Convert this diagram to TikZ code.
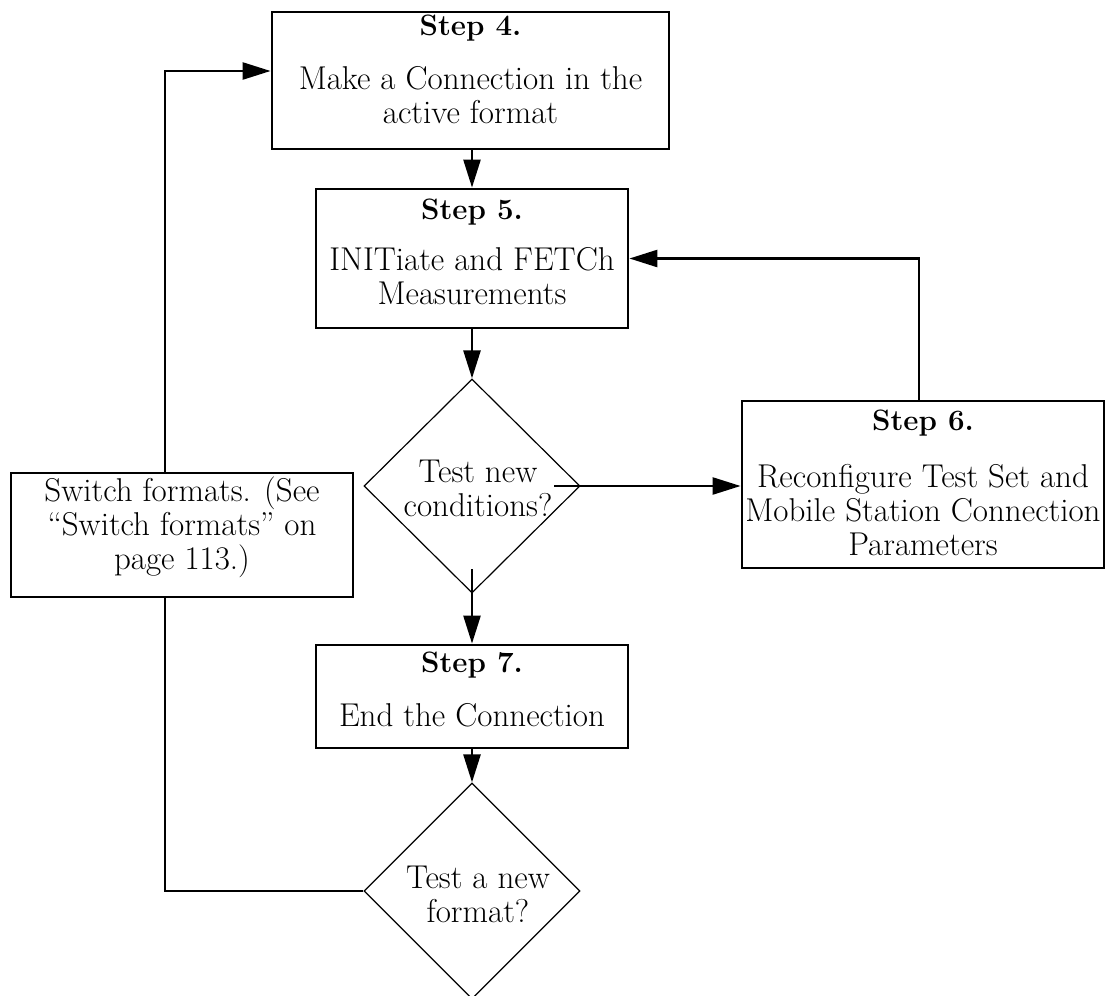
\documentclass[tikz,border=0pt]{standalone}
\usepackage{fontspec}
\usetikzlibrary{shapes.geometric,arrows.meta}
\tikzset{
  stepbox/.style={draw, line width=2.8pt, rectangle, inner sep=0pt},
  dia/.style={draw, line width=1.2pt, diamond, inner sep=0pt, minimum width=216pt, minimum height=214pt},
  ttl/.style={font=\fontsize{29.5}{34}\selectfont\bfseries, inner sep=0pt},
  txt/.style={font=\fontsize{33}{34}\selectfont, align=center, inner sep=0pt},
  conn/.style={line width=2.5pt},
  arr/.style={conn, -{Triangle[length=28pt,width=17pt]}},
}
\begin{document}
\begin{tikzpicture}[x=1pt,y=-1pt]
\path[use as bounding box] (0,0) rectangle (1109,996);
% Step 4
\node[stepbox, minimum width=397pt, minimum height=137pt] (s4) at (470.5,80.5) {};
\node[ttl] (s4t) at (470.5,28) {Step 4.};
\node[txt] (s4b) at (470.5,95) {Make a Connection in the\\active format};
% Step 5
\node[stepbox, minimum width=312pt, minimum height=139pt] (s5) at (472,258.5) {};
\node[ttl] (s5t) at (472,212) {Step 5.};
\node[txt] (s5b) at (472,276.5) {INITiate and FETCh\\Measurements};
% Decision 1
\node[dia] (d1) at (472,486) {};
\node[txt] (d1t) at (478,488) {Test new\\conditions?};
% Step 6
\node[stepbox, minimum width=362pt, minimum height=167pt] (s6) at (923,484.5) {};
\node[ttl] (s6t) at (923,423) {Step 6.};
\node[txt] (s6b) at (923,510) {Reconfigure Test Set and\\Mobile Station Connection\\Parameters};
% Switch formats
\node[stepbox, minimum width=342pt, minimum height=124pt] (sw) at (182,535) {};
\node[txt] (swt) at (182,527) {Switch formats. (See\\“Switch formats” on\\page 113.)};
% Step 7
\node[stepbox, minimum width=312pt, minimum height=103pt] (s7) at (472,696.5) {};
\node[ttl] (s7t) at (472,665) {Step 7.};
\node[txt] (s7b) at (472,715) {End the Connection};
% Decision 2
\node[dia, minimum height=216pt] (d2) at (472,891) {};
\node[txt] (d2t) at (478,894.5) {Test a new\\format?};
% connectors
\draw[arr] (s4.south -| s5.north) -- (s5.north);
\draw[arr] (s5.south) -- (d1.north);
\draw[arr] ([xshift=82pt]d1.center) -- (d1.center -| s6.west);
\draw[arr] ([yshift=-83pt]d1.center) -- (s7.north);
\draw[arr] ([xshift=-4pt]s6.north) |- (s5.east);
\draw[arr] (s7.south) -- (d2.north);
\coordinate (lx) at (165,891);
\draw[conn] (d2.west) -- (lx) -- (lx |- sw.south);
\draw[arr] (lx |- sw.north) |- ([yshift=9.5pt]s4.west);
\end{tikzpicture}
\end{document}
